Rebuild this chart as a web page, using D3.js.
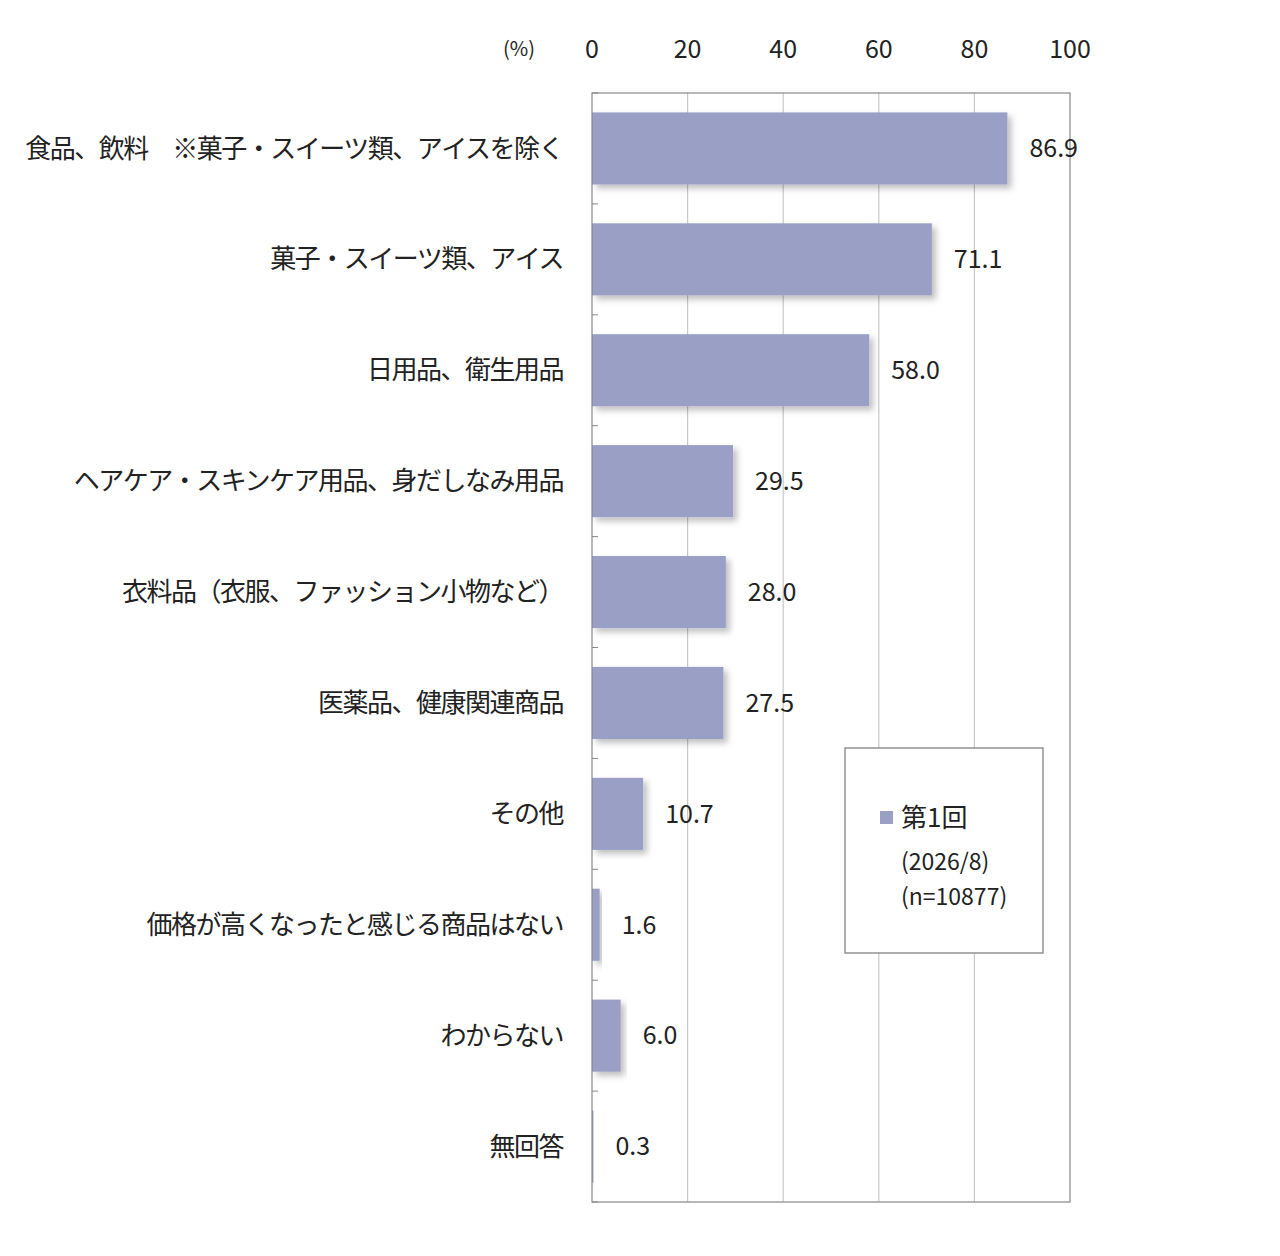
<!DOCTYPE html>
<html><head><meta charset="utf-8">
<script src="https://cdn.jsdelivr.net/npm/d3@7"></script>
<style>body{margin:0;background:#fff}</style></head>
<body><svg id="c" width="1280" height="1256"></svg>
<script>
const categories=["食品、飲料　※菓子・スイーツ類、アイスを除く","菓子・スイーツ類、アイス","日用品、衛生用品","ヘアケア・スキンケア用品、身だしなみ用品","衣料品（衣服、ファッション小物など）","医薬品、健康関連商品","その他","価格が高くなったと感じる商品はない","わからない","無回答"];
const values=[86.9,71.1,58.0,29.5,28.0,27.5,10.7,1.6,6.0,0.3];
const ticks=[0,20,40,60,80,100];
const seriesName="第1回";
const legendNotes=["(2026/8)","(n=10877)"];

const svg=d3.select("#c");
const font="'Noto Sans CJK JP', sans-serif";
const L=592,R=1070,T=93,B=1202;
const x=d3.scaleLinear().domain([0,100]).range([L,R]);
const y=d3.scaleBand().domain(categories).range([T,B]).paddingInner(0.35).paddingOuter(0.175);
const defs=svg.append("defs");
const f=defs.append("filter").attr("id","sh").attr("x","-10%").attr("y","-10%").attr("width","130%").attr("height","140%");
f.append("feDropShadow").attr("dx",4).attr("dy",4).attr("stdDeviation",3).attr("flood-color","#000").attr("flood-opacity",0.25);

// grid
svg.append("g").selectAll("line").data(ticks.slice(1,-1)).join("line")
 .attr("x1",d=>x(d)).attr("x2",d=>x(d)).attr("y1",T).attr("y2",B).attr("stroke","#c8c8c8").attr("stroke-width",1.2);
// bars
svg.append("g").selectAll("rect").data(values).join("rect")
 .attr("x",x(0)).attr("y",(d,i)=>y(categories[i])).attr("width",d=>x(d)-x(0)).attr("height",y.bandwidth())
 .attr("fill","#999fc5").attr("filter","url(#sh)");
// box
svg.append("rect").attr("x",L).attr("y",T).attr("width",R-L).attr("height",B-T).attr("fill","none").attr("stroke","#888").attr("stroke-width",1.2);
// left ticks at band boundaries
const step=y.step();
svg.append("g").selectAll("line").data(d3.range(categories.length+1)).join("line")
 .attr("x1",L).attr("x2",L+6).attr("y1",i=>T+i*(B-T)/categories.length).attr("y2",i=>T+i*(B-T)/categories.length).attr("stroke","#888");
// top axis labels
svg.append("g").selectAll("text").data(ticks).join("text")
 .attr("x",d=>x(d)).attr("y",58).attr("text-anchor","middle").attr("font-family",font).attr("font-size",25).attr("fill","#222").text(d=>d);
svg.append("text").attr("x",519).attr("y",56).attr("text-anchor","middle").attr("font-family",font).attr("font-size",20).attr("fill","#222").text("(%)");
// category labels
svg.append("g").selectAll("text").data(categories).join("text")
 .attr("x",563).attr("y",d=>y(d)+y.bandwidth()/2).attr("dy","0.35em").attr("text-anchor","end")
 .attr("font-family",font).attr("font-size",26).attr("letter-spacing",-1.5).attr("fill","#222").text(d=>d);
// value labels
svg.append("g").selectAll("text").data(values).join("text")
 .attr("x",d=>x(d)+22).attr("y",(d,i)=>y(categories[i])+y.bandwidth()/2).attr("dy","0.35em")
 .attr("font-family",font).attr("font-size",25).attr("fill","#222").text(d=>d.toFixed(1));
// legend
const lg=svg.append("g");
lg.append("rect").attr("x",845).attr("y",748).attr("width",198).attr("height",205).attr("fill","#fff").attr("stroke","#777").attr("stroke-width",1.2);
lg.append("rect").attr("x",880).attr("y",811).attr("width",13).attr("height",13).attr("fill","#999fc5");
lg.append("text").attr("x",901).attr("y",827).attr("font-family",font).attr("font-size",26).attr("fill","#222").text(seriesName);
lg.selectAll("text.n").data(legendNotes).join("text").attr("class","n").attr("x",901).attr("y",(d,i)=>870+i*35)
 .attr("font-family",font).attr("font-size",23).attr("fill","#222").text(d=>d);
</script></body></html>
